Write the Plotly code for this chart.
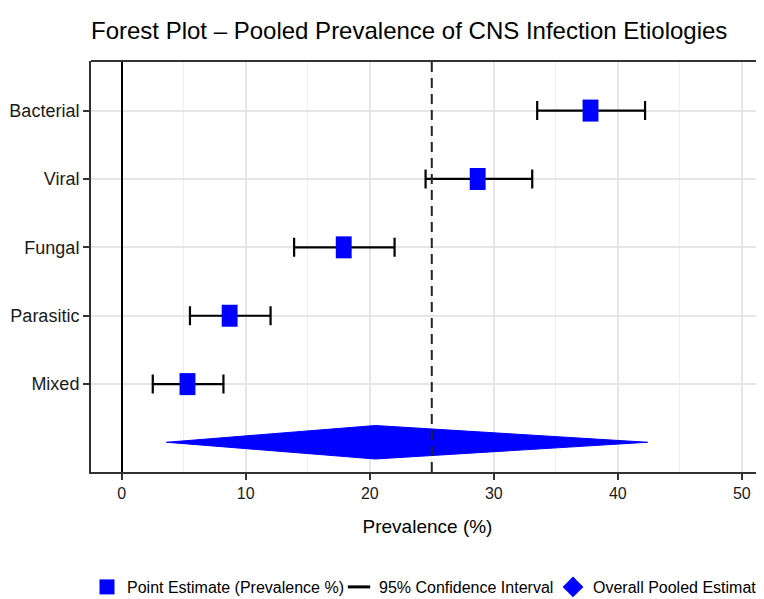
import plotly.graph_objects as go

# ---------------- data ----------------
categories = ["Bacterial", "Viral", "Fungal", "Parasitic", "Mixed"]
prevalence = [37.8, 28.7, 17.9, 8.7, 5.3]
ci_lower = [33.5, 24.5, 13.9, 5.5, 2.5]
ci_upper = [42.2, 33.1, 22.0, 12.0, 8.2]
pooled_estimate = 20.45
pooled_lower = 3.6
pooled_upper = 42.4
reference_line = 25
x_ticks = [0, 10, 20, 30, 40, 50]

FONT = "Liberation Sans, Arial, sans-serif"
BLUE = "#0000FF"

# figure size (page has an 8px body margin)
W, H = 756, 591

n = len(categories)
ypos = [n - i for i in range(n)]  # Bacterial on top
pooled_y = 0.15
pooled_half_h = 0.245
box_half_w = 0.64  # half width of the point-estimate box, in axis units

fig = go.Figure()

# CI lines with caps
fig.add_trace(go.Scatter(
    x=prevalence, y=ypos, mode="markers",
    marker=dict(size=1, opacity=0),
    error_x=dict(type="data", symmetric=False,
                 array=[u - p for u, p in zip(ci_upper, prevalence)],
                 arrayminus=[p - l for p, l in zip(prevalence, ci_lower)],
                 color="black", thickness=2.2, width=9.5),
    showlegend=False, hoverinfo="skip"))

# point estimate boxes (thick line segments)
bx, by = [], []
for p, y in zip(prevalence, ypos):
    bx += [p - box_half_w, p + box_half_w, None]
    by += [y, y, None]
fig.add_trace(go.Scatter(x=bx, y=by, mode="lines",
                         line=dict(color=BLUE, width=22),
                         showlegend=False, hoverinfo="skip"))

# pooled diamond
fig.add_trace(go.Scatter(
    x=[pooled_lower, pooled_estimate, pooled_upper, pooled_estimate, pooled_lower],
    y=[pooled_y, pooled_y + pooled_half_h, pooled_y, pooled_y - pooled_half_h, pooled_y],
    mode="lines", fill="toself", fillcolor=BLUE,
    line=dict(color=BLUE, width=1), showlegend=False, hoverinfo="skip"))

# legend entries (three separate legends so they sit on one row)
fig.add_trace(go.Scatter(x=[None], y=[None], mode="markers",
                         marker=dict(symbol="square", size=15, color=BLUE),
                         name="Point Estimate (Prevalence %)", legend="legend"))
fig.add_trace(go.Scatter(x=[None], y=[None], mode="markers",
                         marker=dict(symbol="line-ew", size=17, color="black",
                                     line=dict(color="black", width=3)),
                         name="95% Confidence Interval", legend="legend2"))
fig.add_trace(go.Scatter(x=[None], y=[None], mode="markers",
                         marker=dict(symbol="diamond", size=16, color=BLUE),
                         name="Overall Pooled Estimate", legend="legend3"))

# reference dashed line
fig.add_shape(type="line", x0=reference_line, x1=reference_line, y0=0, y1=1,
              xref="x", yref="paper", line=dict(color="#222", width=2, dash="10px,6px"))
# top border
fig.add_shape(type="line", x0=0, x1=1, y0=1, y1=1, xref="paper", yref="paper",
              line=dict(color="#333", width=2))

leg_common = dict(orientation="h", xref="container", yref="container",
                  xanchor="left", yanchor="middle", y=1 - 579 / H,
                  font=dict(size=16, color="black", family=FONT),
                  itemwidth=30, bgcolor="rgba(0,0,0,0)")

fig.update_layout(
    width=W, height=H,
    margin=dict(l=83, r=0, t=53, b=H - 464),
    paper_bgcolor="white", plot_bgcolor="white",
    font=dict(family=FONT, color="black"),
    title=dict(text="Forest Plot – Pooled Prevalence of CNS Infection Etiologies",
               x=0, xref="paper", xanchor="left",
               y=1 - 23 / H, yref="container", yanchor="middle",
               font=dict(size=24, color="black", family=FONT)),
    legend=dict(leg_common, x=79 / W),
    legend2=dict(leg_common, x=331 / W),
    legend3=dict(leg_common, x=545 / W),
    xaxis=dict(range=[-2.48, 51.79], tickvals=x_ticks,
               showgrid=True, gridcolor="#E6E6E6", gridwidth=1.6,
               minor=dict(dtick=5, showgrid=True, gridcolor="#EEEEEE", gridwidth=0.9),
               zeroline=True, zerolinecolor="black", zerolinewidth=2,
               showline=True, linecolor="#333", linewidth=2,
               ticks="outside", ticklen=6, tickcolor="#333", tickwidth=1.5,
               tickfont=dict(size=16, color="#1a1a1a"),
               title=dict(text="Prevalence (%)", font=dict(size=19, color="black"), standoff=18)),
    yaxis=dict(range=[-0.285, 5.725], tickvals=ypos, ticktext=categories,
               showgrid=True, gridcolor="#E6E6E6", gridwidth=1.6, zeroline=False,
               showline=True, linecolor="#333", linewidth=2,
               ticks="outside", ticklen=6, tickcolor="#333", tickwidth=1.5,
               tickfont=dict(size=18, color="#1a1a1a")),
)

fig.write_html("out.html")
